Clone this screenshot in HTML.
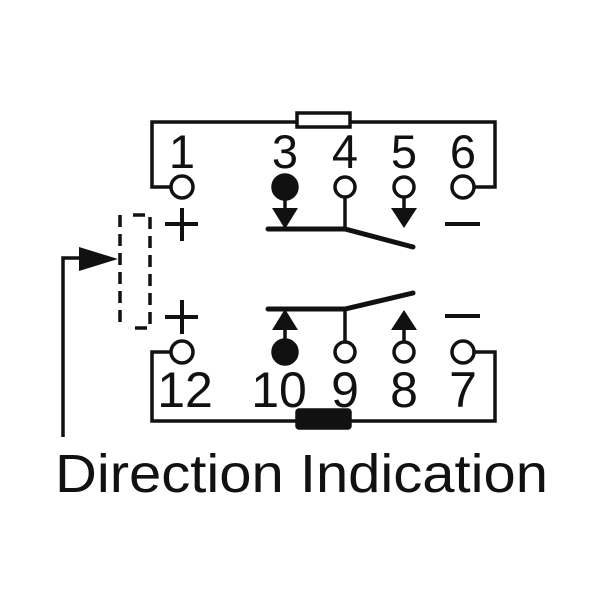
<!DOCTYPE html>
<html><head><style>html,body{margin:0;padding:0;background:#fff}</style></head>
<body>
<svg width="600" height="600" viewBox="0 0 600 600" xmlns="http://www.w3.org/2000/svg">
<g stroke="#111" stroke-width="3.5" fill="none">
<polyline points="170,187 152,187 152,122 495,122 495,187 475,187"/>
<rect x="297" y="113" width="53" height="14" fill="#fff"/>
<polyline points="170,352 152,352 152,421 495,421 495,352 475,352"/>
<rect x="297" y="410" width="53" height="18" fill="#111" rx="2"/>
<circle cx="182" cy="187" r="11" fill="#fff"/>
<circle cx="285" cy="187" r="12" fill="#111"/>
<circle cx="345" cy="187" r="10" fill="#fff"/>
<circle cx="404" cy="187" r="10" fill="#fff"/>
<circle cx="463" cy="187" r="11" fill="#fff"/>
<circle cx="182" cy="352" r="11" fill="#fff"/>
<circle cx="285" cy="352" r="12" fill="#111"/>
<circle cx="345" cy="352" r="10" fill="#fff"/>
<circle cx="404" cy="352" r="10" fill="#fff"/>
<circle cx="463" cy="352" r="11" fill="#fff"/>
<polyline points="268,229 345,229 413,247" stroke-width="5" stroke-linecap="round"/>
<line x1="345" y1="197" x2="345" y2="229"/>
<polyline points="268,309 345,309 413,293" stroke-width="5" stroke-linecap="round"/>
<line x1="345" y1="342" x2="345" y2="309"/>
<line x1="285" y1="197" x2="285" y2="210"/>
<line x1="404" y1="197" x2="404" y2="210"/>
<line x1="285" y1="340" x2="285" y2="328"/>
<line x1="404" y1="342" x2="404" y2="330"/>
<path d="M165,224 H198 M182,208 V241 M165,317 H198 M182,300 V334 M445,224 H480 M445,316 H480" stroke-width="4"/>
<path d="M120,215 V328 M133,215 H150 V328 H133" stroke-dasharray="12,7"/>
<polyline points="63,437 63,258 100,258"/>
</g>
<g fill="#111">
<polygon points="272,208 298,208 285,229"/>
<polygon points="391,208 417,208 404,228"/>
<polygon points="272,330 298,330 285,309"/>
<polygon points="391,330 417,330 404,310"/>
<polygon points="79,247 79,271 118,259"/>
</g>
<g font-family="Liberation Sans, sans-serif" font-size="47" fill="#111" text-anchor="middle">
<text x="182" y="168">1</text>
<text x="285" y="168">3</text>
<text x="345" y="168">4</text>
<text x="404" y="168">5</text>
<text x="463" y="168">6</text>
</g>
<g font-family="Liberation Sans, sans-serif" font-size="50" fill="#111" text-anchor="middle">
<text x="185" y="407">12</text>
<text x="279" y="407">10</text>
<text x="345" y="407">9</text>
<text x="404" y="407">8</text>
<text x="463" y="407">7</text>
</g>
<text x="55" y="492" font-family="Liberation Sans, sans-serif" font-size="54" fill="#111" textLength="493" lengthAdjust="spacingAndGlyphs">Direction Indication</text>
</svg>
</body></html>
